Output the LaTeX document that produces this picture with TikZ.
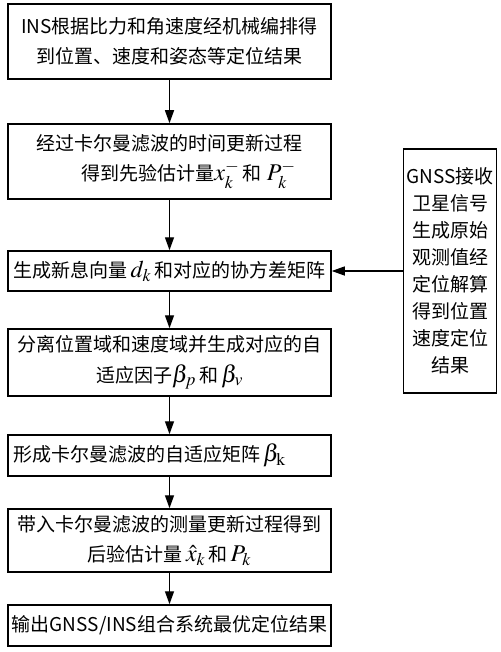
\documentclass[tikz,border=0pt]{standalone}
\usepackage{mathptmx}
\usepackage[no-math]{fontspec}
\setmainfont{Noto Sans CJK SC}
\usetikzlibrary{arrows.meta}
\newcommand\mth[1]{{\fontsize{24}{30.5}\selectfont$#1$}}
\tikzset{
  box/.style={draw, line width=1.5pt, minimum width=323pt, align=center, inner xsep=2pt, inner ysep=0pt,
    font=\fontsize{19}{30.5}\selectfont},
  gbox/.style={draw, line width=1.5pt, minimum width=93pt, minimum height=244pt, align=center, inner sep=0pt,
    font=\fontsize{19}{27}\selectfont},
  arr/.style={line width=1.3pt, -{Triangle[length=13pt,width=9pt]}}
}
\begin{document}
\begin{tikzpicture}[x=1pt,y=-1pt]
\useasboundingbox (0,0) rectangle (500,652);
\node[box, minimum height=75pt] (b1) at (169.5,41.5) {INS根据比力和角速度经机械编排得\\到位置、速度和姿态等定位结果};
\node[box, minimum height=75pt] (b2) at (169.5,161.5) {经过卡尔曼滤波的时间更新过程\\\hspace*{2em}得到先验估计量\mth{x^{-}_{k}}\,和\;\mth{P^{-}_{k}}};
\node[box, minimum height=40pt] (b3) at (169.5,271) {生成新息向量\,\mth{d_k}\,和对应的协方差矩阵};
\node[box, minimum height=67pt] (b4) at (169.5,362.5) {分离位置域和速度域并生成对应的自\\适应因子\mth{\beta_p}\,和\,\mth{\beta_v}};
\node[box, minimum height=41pt, text width=313pt, inner xsep=5pt, align=left] (b5) at (169.5,455.5) {形成卡尔曼滤波的自适应矩阵\,\mth{\beta_{\mathrm{k}}}};
\node[box, minimum height=63pt] (b6) at (169.5,540.5) {带入卡尔曼滤波的测量更新过程得到\\后验估计量\,\mth{\hat{x}_k}\,和\,\mth{P_k}};
\node[box, minimum height=41pt] (b7) at (169.5,625.5) {输出GNSS/INS组合系统最优定位结果};
\node[gbox] (g) at (450,271) {GNSS接收\\卫星信号\\生成原始\\观测值经\\定位解算\\得到位置\\速度定位\\结果};
\draw[arr] (b1) -- (b2);
\draw[arr] (b2) -- (b3);
\draw[arr] (b3) -- (b4);
\draw[arr] (b4) -- (b5);
\draw[arr] (b5) -- (b6);
\draw[arr] (b6) -- (b7);
\draw[arr] (g.west) -- (b3.east);
\end{tikzpicture}
\end{document}
